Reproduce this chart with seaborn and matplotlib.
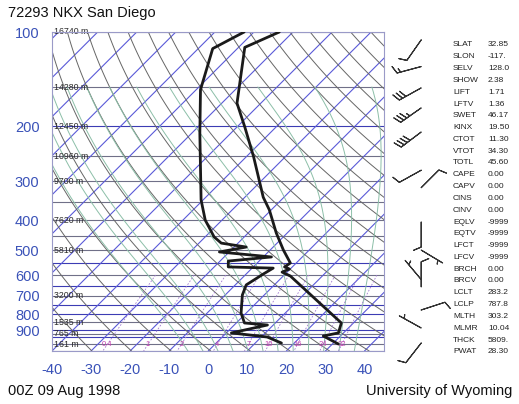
import numpy as np
import pandas as pd
import matplotlib
matplotlib.use('Agg')
import matplotlib.pyplot as plt
import seaborn as sns

# ------------------------------------------------------------
# sounding data (hPa, deg C)
# ------------------------------------------------------------
temp_p = [100, 112, 169, 201, 251, 338, 371, 440, 499, 549, 565, 574, 587, 604, 854, 919, 940, 997]
temp_t = [-63.5, -68.4, -56.1, -48.1, -38.1, -25.3, -20.5, -12.8, -6.6, -1.5, -2.0, -0.2, -1.3, 1.8,
          26.9, 28.7, 25.6, 31.5]

dwpt_p = [100, 113, 153, 211, 345, 400, 453, 474, 488, 506, 525, 541, 565, 570, 595, 645, 695,
          794, 854, 867, 919, 947, 990]
dwpt_t = [-72.5, -76.3, -68.9, -57.9, -40.5, -34.3, -27.7, -24.3, -16.9, -22.5, -7.9, -17.9, -16.4,
          -4.6, -5.6, -7.2, -5.6, -1.3, 2.1, 8.5, 1.3, 11.5, 16.7]

# winds (hPa, direction deg, speed kt)
wind_p = [106, 129, 151, 175, 209, 277, 315, 406, 499, 654, 620, 776, 886, 990]
wind_dir = [215, 255, 241, 235, 233, 241, 45, 180, 121, 360, 320, 72, 299, 218]
wind_spd = [10, 15, 30, 35, 40, 10, 10, 10, 5, 10, 5, 10, 5, 10]

# heights of the standard levels
hgt_p = [100, 150, 200, 250, 300, 400, 500, 700, 850, 925, 1000]
hgt_lbl = ['16740 m', '14280 m', '12450 m', '10960 m', '9700 m', '7620 m', '5810 m',
           '3200 m', '1535 m', '765 m', '161 m']

# station indices
idx_names = ['SLAT', 'SLON', 'SELV', 'SHOW', 'LIFT', 'LFTV', 'SWET', 'KINX', 'CTOT', 'VTOT',
             'TOTL', 'CAPE', 'CAPV', 'CINS', 'CINV', 'EQLV', 'EQTV', 'LFCT', 'LFCV', 'BRCH',
             'BRCV', 'LCLT', 'LCLP', 'MLTH', 'MLMR', 'THCK', 'PWAT']
idx_vals = ['32.85', '-117.', '128.0', '2.38', '1.71', '1.36', '46.17', '19.50', '11.30', '34.30',
            '45.60', '0.00', '0.00', '0.00', '0.00', '-9999', '-9999', '-9999', '-9999', '0.00',
            '0.00', '283.2', '787.8', '303.2', '10.04', '5809.', '28.30']

p_ticks = [100, 200, 300, 400, 500, 600, 700, 800, 900]
t_ticks = [-40, -30, -20, -10, 0, 10, 20, 30, 40]
isobars = [100, 150, 200, 250, 300, 350, 400, 450, 500, 550, 600, 650, 700, 750, 800, 850,
           900, 925, 950, 1000, 1050]
isotherms = list(range(-130, 50, 10))
theta_lines = list(range(230, 480, 10))
moist_start = [-8, -4, 0, 4, 8, 12, 16, 20, 24, 28, 32, 36]
mixr_lines = [0.4, 1, 2, 4, 7, 10, 16, 24, 32]
mixr_lbl = ['0.4', '1', '2', '4', '7', '10', '16', '24', '32']

# ------------------------------------------------------------
# skew-T helpers
# ------------------------------------------------------------
K = 80.0          # skew, deg C per decade of pressure
P_BOT, P_TOP = 1050.0, 100.0


def skew_x(t, p):
    return np.asarray(t, float) + K * np.log10(P_BOT / np.asarray(p, float))


def moist_adiabat(t0, pp):
    T = t0 + 273.15
    out = [T]
    for p0, p1 in zip(pp[:-1], pp[1:]):
        es = 6.112 * np.exp(17.67 * (T - 273.15) / (T - 29.65))
        rs = 0.622 * es / (p0 - es)
        dtdp = (287.0 * T + 2.5e6 * rs) / (p0 * (1004.0 + 2.5e6 ** 2 * rs * 0.622 / (287.0 * T ** 2)))
        T = T + dtdp * (p1 - p0)
        out.append(T)
    return np.array(out) - 273.15


def dewpoint_from_w(w, p):
    e = w * p / (622.0 + w)
    a = np.log(e / 6.112)
    return 243.5 * a / (17.67 - a)


# ------------------------------------------------------------
# figure
# ------------------------------------------------------------
sns.set_style('white')
plt.rcParams['font.family'] = ['Liberation Sans', 'DejaVu Sans']

W, H = 519, 404
fig = plt.figure(figsize=(W / 100, H / 100), dpi=100)
ax = fig.add_axes([52 / W, 1 - 351 / H, 332 / W, 319 / H])
ax.set_yscale('log')

pp = np.geomspace(P_TOP, P_BOT, 80)

# isobars
for p in isobars:
    col = '#3c3cb4' if p in (200, 550, 650, 750, 800, 900, 950) else '#707088'
    ax.axhline(p, color=col, lw=0.8, zorder=1)

# isotherms
for t in isotherms:
    ax.plot(skew_x([t, t], [P_BOT, P_TOP]), [P_BOT, P_TOP], color='#5a5ad8', lw=0.8, zorder=1)

# dry adiabats
for th in theta_lines:
    tt = th * (pp / 1000.0) ** 0.2857 - 273.15
    ax.plot(skew_x(tt, pp), pp, color='#666666', lw=0.7, zorder=1)

# moist adiabats
p_up = np.linspace(1000, 150, 300)
p_dn = np.linspace(1000, 1050, 10)
for t0 in moist_start:
    up = moist_adiabat(t0, p_up)
    dn = moist_adiabat(t0, p_dn)
    ps = np.concatenate([p_dn[::-1], p_up[1:]])
    ts = np.concatenate([dn[::-1], up[1:]])
    ax.plot(skew_x(ts, ps), ps, color='#8cbfa8', lw=0.7, zorder=1)

# mixing ratio lines
pm = np.geomspace(600, 1050, 30)
for w, lbl in zip(mixr_lines, mixr_lbl):
    td = dewpoint_from_w(w, pm)
    ax.plot(skew_x(td, pm), pm, color='#a27ad0', lw=0.6, ls=(0, (2, 2)), zorder=1)
    ax.text(skew_x(dewpoint_from_w(w, 1000.0), 1000.0), 1000, lbl, color='#c040b0',
            fontsize=5.5, ha='center', va='center', zorder=2)

# height labels
for p, lbl in zip(hgt_p, hgt_lbl):
    ax.text(-39.6, p, lbl, fontsize=6.3, color='#2a2a2a', va='center', ha='left', zorder=2)

# temperature / dewpoint profiles
prof = pd.concat([
    pd.DataFrame({'x': skew_x(temp_t, temp_p), 'p': temp_p, 'kind': 'T'}),
    pd.DataFrame({'x': skew_x(dwpt_t, dwpt_p), 'p': dwpt_p, 'kind': 'Td'}),
])
sns.lineplot(data=prof, x='x', y='p', hue='kind', palette=['#1a1a1a', '#1a1a1a'],
             sort=False, estimator=None, legend=False, lw=2.0, ax=ax, zorder=5)

ax.set_xlim(-40, 45)
ax.set_ylim(P_BOT, P_TOP)
ax.yaxis.set_minor_locator(matplotlib.ticker.NullLocator())
ax.set_yticks(p_ticks)
ax.set_yticklabels([str(p) for p in p_ticks])
ax.set_xticks(t_ticks)
ax.set_xticklabels([str(t) for t in t_ticks])
ax.tick_params(axis='y', length=0, pad=9, labelsize=10.5, labelcolor='#3a52b8')
ax.tick_params(axis='x', length=0, pad=9, labelsize=10.5, labelcolor='#3a52b8')
ax.set_xlabel('')
ax.set_ylabel('')
for s in ax.spines.values():
    s.set_color('#9a9ac8')
    s.set_linewidth(0.8)

# wind barbs
axb = fig.add_axes([390 / W, 1 - 351 / H, 60 / W, 319 / H])
axb.set_yscale('log')
axb.set_ylim(P_BOT, P_TOP)
axb.set_xlim(0, 1)
axb.axis('off')
wd = np.radians(wind_dir)
u = -np.array(wind_spd) * np.sin(wd)
v = -np.array(wind_spd) * np.cos(wd)
axb.barbs(np.full(len(wind_p), 0.52), wind_p, u, v, length=6, lw=0.8, color='#333333',
          sizes=dict(height=0.3, spacing=0.15), clip_on=False)

# station indices
for i, (n, val) in enumerate(zip(idx_names, idx_vals)):
    y = 45 + i * 11.8
    fig.text(453 / W, 1 - y / H, n, fontsize=6, color='#222222', va='center', ha='left')
    fig.text(488 / W, 1 - y / H, val, fontsize=6, color='#222222', va='center', ha='left')

fig.text(8 / W, 1 - 13 / H, '72293 NKX San Diego', fontsize=10.5, color='#111111', va='center')
fig.text(8 / W, 1 - 391 / H, '00Z 09 Aug 1998', fontsize=10.5, color='#111111', va='center')
fig.text(512 / W, 1 - 391 / H, 'University of Wyoming', fontsize=10.5, color='#111111',
         va='center', ha='right')

fig.savefig('out.png', dpi=100)
plt.close(fig)
